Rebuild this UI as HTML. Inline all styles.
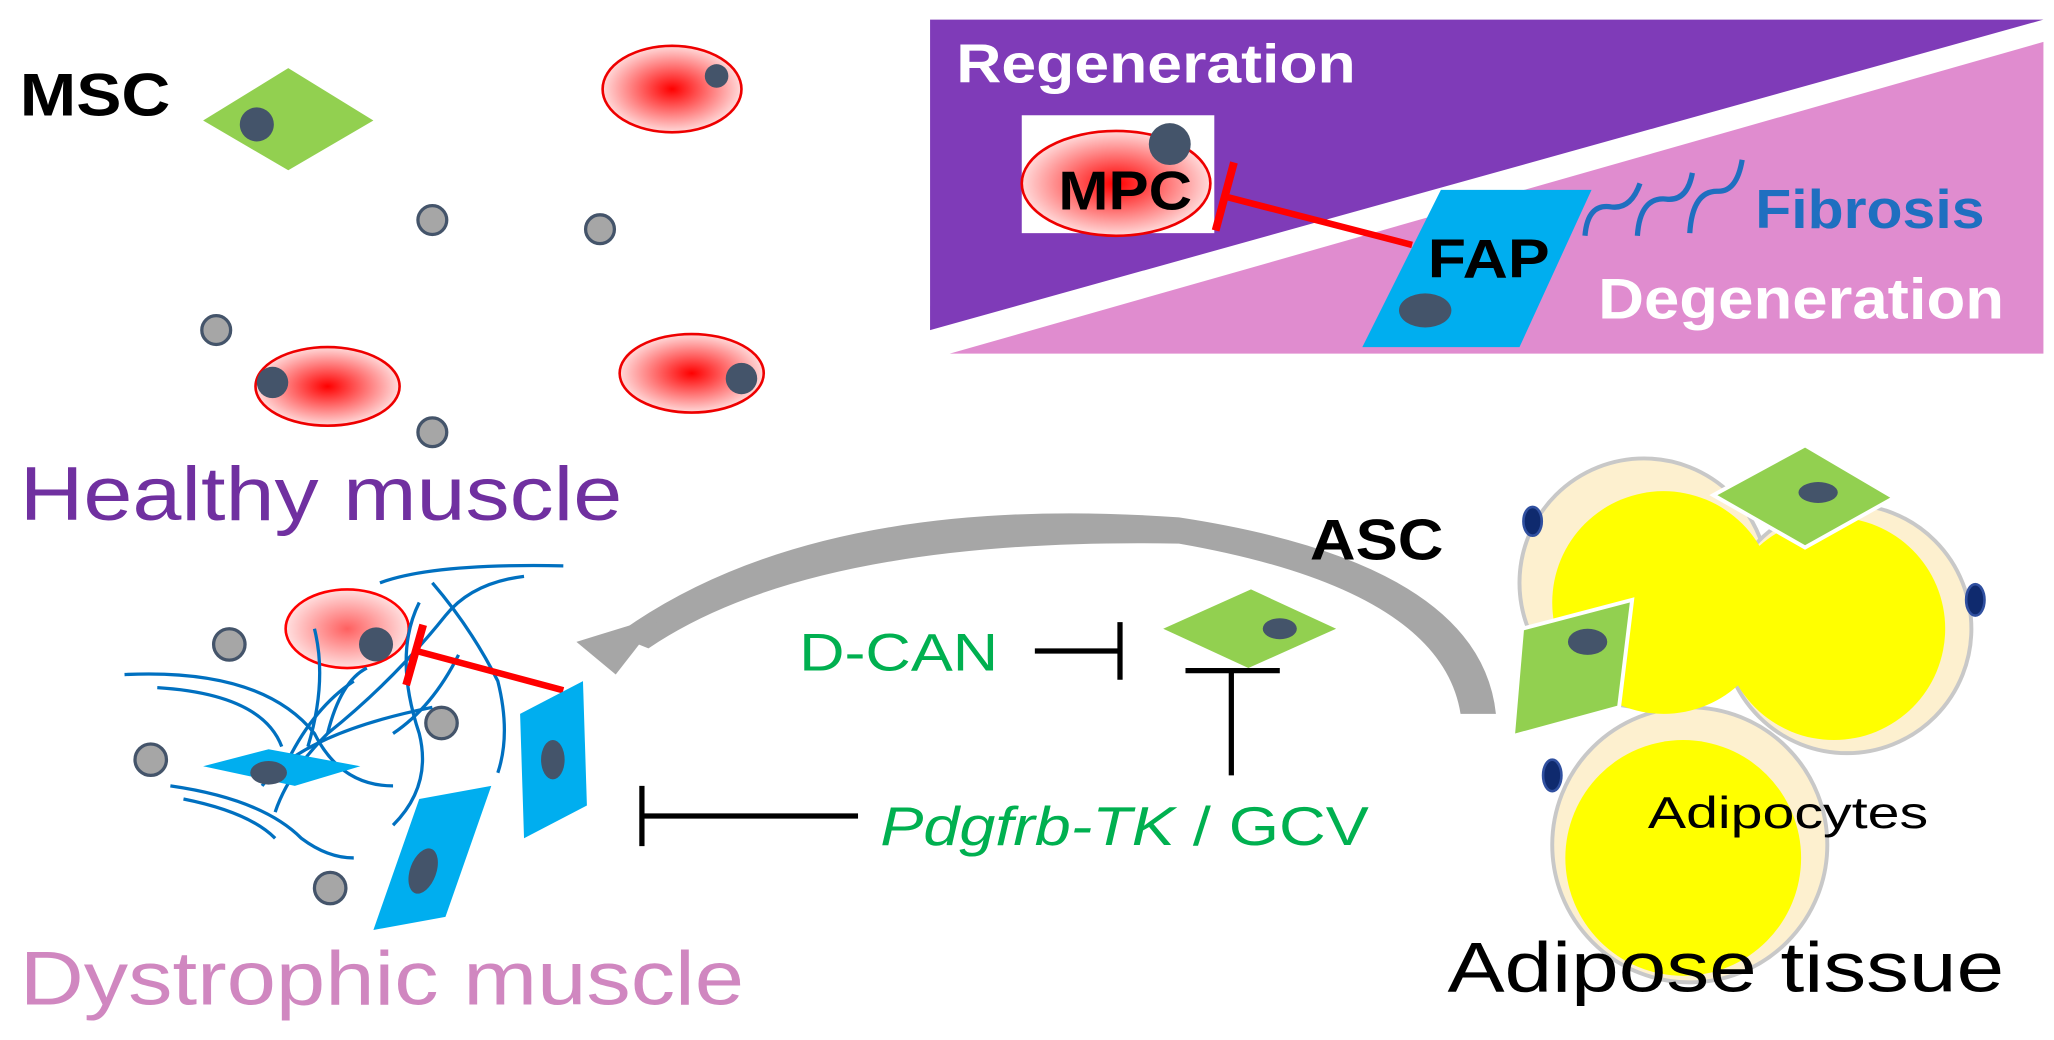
<!DOCTYPE html>
<html><head><meta charset="utf-8"><style>
html,body{margin:0;padding:0;background:#fff;width:2054px;height:1040px;overflow:hidden}
svg{display:block}
text{font-family:"Liberation Sans","DejaVu Sans",sans-serif}
</style></head><body>
<svg width="2054" height="1040" viewBox="0 0 1568 794" xmlns="http://www.w3.org/2000/svg">
<defs>
<radialGradient id="rg"><stop offset="0" stop-color="#ff0000"/><stop offset="1" stop-color="#ffdada"/></radialGradient>
<radialGradient id="rg2"><stop offset="0" stop-color="#ff6060"/><stop offset="1" stop-color="#ffe0e0"/></radialGradient>
</defs>
<!-- top right panel -->
<polygon points="710,15 1560,15 710,252" fill="#7f3bb8"/>
<polygon points="1560,32 1560,270 725,270" fill="#e08ccf"/>
<text x="730" y="63" font-size="42" font-weight="bold" fill="#fff" textLength="305" lengthAdjust="spacingAndGlyphs">Regeneration</text>
<rect x="780" y="88" width="147" height="90" fill="#fff"/>
<ellipse cx="852" cy="140" rx="72" ry="40" fill="url(#rg)" stroke="#e00" stroke-width="2"/>
<circle cx="893" cy="110" r="16" fill="#44546a"/>
<text x="808" y="160" font-size="42" font-weight="bold" textLength="102" lengthAdjust="spacingAndGlyphs">MPC</text>
<line x1="1078" y1="187" x2="935" y2="150" stroke="#f00" stroke-width="5"/>
<line x1="928" y1="176" x2="942" y2="124" stroke="#f00" stroke-width="6"/>
<polygon points="1100,145 1215,145 1160,265 1040,265" fill="#00aeef"/>
<ellipse cx="1088" cy="237" rx="20" ry="13" fill="#44546a"/>
<text x="1090" y="212" font-size="42" font-weight="bold" textLength="93" lengthAdjust="spacingAndGlyphs">FAP</text>
<g fill="none" stroke="#1f6fc0" stroke-width="4">
<path d="M1210,180 Q1212,155 1230,158 Q1245,160 1252,140"/>
<path d="M1250,180 Q1252,150 1272,152 Q1288,154 1292,132"/>
<path d="M1290,178 Q1292,145 1312,146 Q1326,146 1330,122"/>
</g>
<text x="1340" y="174" font-size="42" font-weight="bold" fill="#1f6fc0" textLength="175" lengthAdjust="spacingAndGlyphs">Fibrosis</text>
<text x="1220" y="243" font-size="44" font-weight="bold" fill="#fff" textLength="310" lengthAdjust="spacingAndGlyphs">Degeneration</text>
<!-- healthy -->
<text x="15" y="88" font-size="46" font-weight="bold" textLength="115" lengthAdjust="spacingAndGlyphs">MSC</text>
<polygon points="155,92 220,52 285,92 220,130" fill="#92d050"/>
<circle cx="196" cy="95" r="13" fill="#44546a"/>
<ellipse cx="513" cy="68" rx="53" ry="33" fill="url(#rg)" stroke="#e00" stroke-width="2"/>
<circle cx="547" cy="58" r="9" fill="#44546a"/>
<ellipse cx="250" cy="295" rx="55" ry="30" fill="url(#rg)" stroke="#e00" stroke-width="2"/>
<circle cx="208" cy="292" r="12" fill="#44546a"/>
<ellipse cx="528" cy="285" rx="55" ry="30" fill="url(#rg)" stroke="#e00" stroke-width="2"/>
<circle cx="566" cy="289" r="12" fill="#44546a"/>
<g fill="#a6a6a6" stroke="#44546a" stroke-width="2.5">
<circle cx="330" cy="168" r="11"/><circle cx="458" cy="175" r="11"/><circle cx="165" cy="252" r="11"/><circle cx="330" cy="330" r="11"/>
<circle cx="175" cy="492" r="12"/><circle cx="115" cy="580" r="12"/><circle cx="337" cy="552" r="12"/><circle cx="252" cy="678" r="12"/>
</g>
<text x="15" y="397" font-size="58" fill="#7030a0" textLength="460" lengthAdjust="spacingAndGlyphs">Healthy muscle</text>
<!-- dystrophic -->
<ellipse cx="265" cy="480" rx="47" ry="30" fill="url(#rg2)" stroke="#f00" stroke-width="2"/>
<circle cx="287" cy="492" r="13" fill="#44546a"/>
<g fill="none" stroke="#0070c0" stroke-width="2.5">
<path d="M290,445 Q330,430 430,432"/><path d="M95,515 Q200,510 240,560 Q260,600 300,600"/><path d="M120,525 Q200,530 215,570"/>
<path d="M400,440 Q360,445 340,470 Q300,520 250,560 Q220,590 210,620"/>
<path d="M330,445 Q360,480 380,520 Q390,560 380,590"/><path d="M320,460 Q300,500 320,560 Q330,600 300,630"/>
<path d="M130,600 Q200,610 230,640 Q250,655 270,655"/><path d="M140,610 Q190,620 210,640"/>
<path d="M250,560 Q260,520 280,510"/><path d="M235,570 Q250,520 240,480"/><path d="M220,580 Q240,540 270,520"/>
<path d="M200,600 Q230,560 330,540"/><path d="M350,500 Q330,540 300,560"/>
</g>
<polygon points="155,585 205,572 275,585 225,600" fill="#00aeef"/>
<ellipse cx="205" cy="590" rx="14" ry="9" fill="#44546a"/>
<line x1="430" y1="527" x2="318" y2="497" stroke="#f00" stroke-width="5"/>
<line x1="310" y1="523" x2="323" y2="477" stroke="#f00" stroke-width="6"/>
<polygon points="445,520 448,615 400,640 397,545" fill="#00aeef"/>
<ellipse cx="422" cy="580" rx="9" ry="15" fill="#44546a"/>
<polygon points="375,600 340,700 285,710 320,610" fill="#00aeef"/>
<ellipse cx="323" cy="665" rx="10" ry="18" fill="#44546a" transform="rotate(20 323 665)"/>
<text x="15" y="767" font-size="58" fill="#d087c0" textLength="553" lengthAdjust="spacingAndGlyphs">Dystrophic muscle</text>
<!-- gray arrow -->
<path d="M1142,545 Q1130,430 900,395 Q620,375 470,485 L495,495 Q620,410 900,415 Q1100,450 1115,545 Z" fill="#a6a6a6"/>
<polygon points="440,490 505,470 470,515" fill="#a6a6a6"/>
<!-- center -->
<polygon points="888,480 955,450 1020,480 953,510" fill="#92d050"/>
<ellipse cx="977" cy="480" rx="13" ry="8" fill="#44546a"/>
<text x="610" y="512" font-size="40" fill="#00b050" textLength="152" lengthAdjust="spacingAndGlyphs">D-CAN</text>
<line x1="790" y1="497" x2="855" y2="497" stroke="#000" stroke-width="4"/>
<line x1="855" y1="475" x2="855" y2="519" stroke="#000" stroke-width="4"/>
<line x1="940" y1="592" x2="940" y2="512" stroke="#000" stroke-width="4"/>
<line x1="905" y1="512" x2="977" y2="512" stroke="#000" stroke-width="4"/>
<text x="672" y="645" font-size="42" fill="#00b050" textLength="373" lengthAdjust="spacingAndGlyphs"><tspan font-style="italic">Pdgfrb-TK</tspan> / GCV</text>
<line x1="655" y1="623" x2="490" y2="623" stroke="#000" stroke-width="4"/>
<line x1="490" y1="600" x2="490" y2="646" stroke="#000" stroke-width="4"/>
<!-- adipose -->
<text x="1000" y="427" font-size="44" font-weight="bold" textLength="102" lengthAdjust="spacingAndGlyphs">ASC</text>
<g stroke="#c8c8c8" stroke-width="3" fill="#fdf0cf">
<circle cx="1255" cy="445" r="95"/><circle cx="1410" cy="480" r="95"/><circle cx="1290" cy="645" r="105"/>
</g>
<circle cx="1270" cy="460" r="85" fill="#ffff00"/>
<circle cx="1400" cy="480" r="85" fill="#ffff00"/>
<circle cx="1285" cy="655" r="90" fill="#ffff00"/>
<g fill="#0f2a6e" stroke="#3050a0" stroke-width="2">
<ellipse cx="1170" cy="398" rx="7" ry="11"/><ellipse cx="1508" cy="458" rx="7" ry="12"/><ellipse cx="1185" cy="592" rx="7" ry="12"/>
</g>
<polygon points="1308,378 1378,340 1446,380 1378,418" fill="#92d050" stroke="#fff" stroke-width="3"/>
<ellipse cx="1388" cy="376" rx="15" ry="8" fill="#44546a"/>
<polygon points="1162,480 1246,458 1236,540 1155,562" fill="#92d050" stroke="#fff" stroke-width="3"/>
<ellipse cx="1212" cy="490" rx="15" ry="10" fill="#44546a"/>
<text x="1258" y="632" font-size="34" textLength="214" lengthAdjust="spacingAndGlyphs">Adipocytes</text>
<text x="1105" y="757" font-size="54" textLength="425" lengthAdjust="spacingAndGlyphs">Adipose tissue</text>
</svg>
</body></html>
